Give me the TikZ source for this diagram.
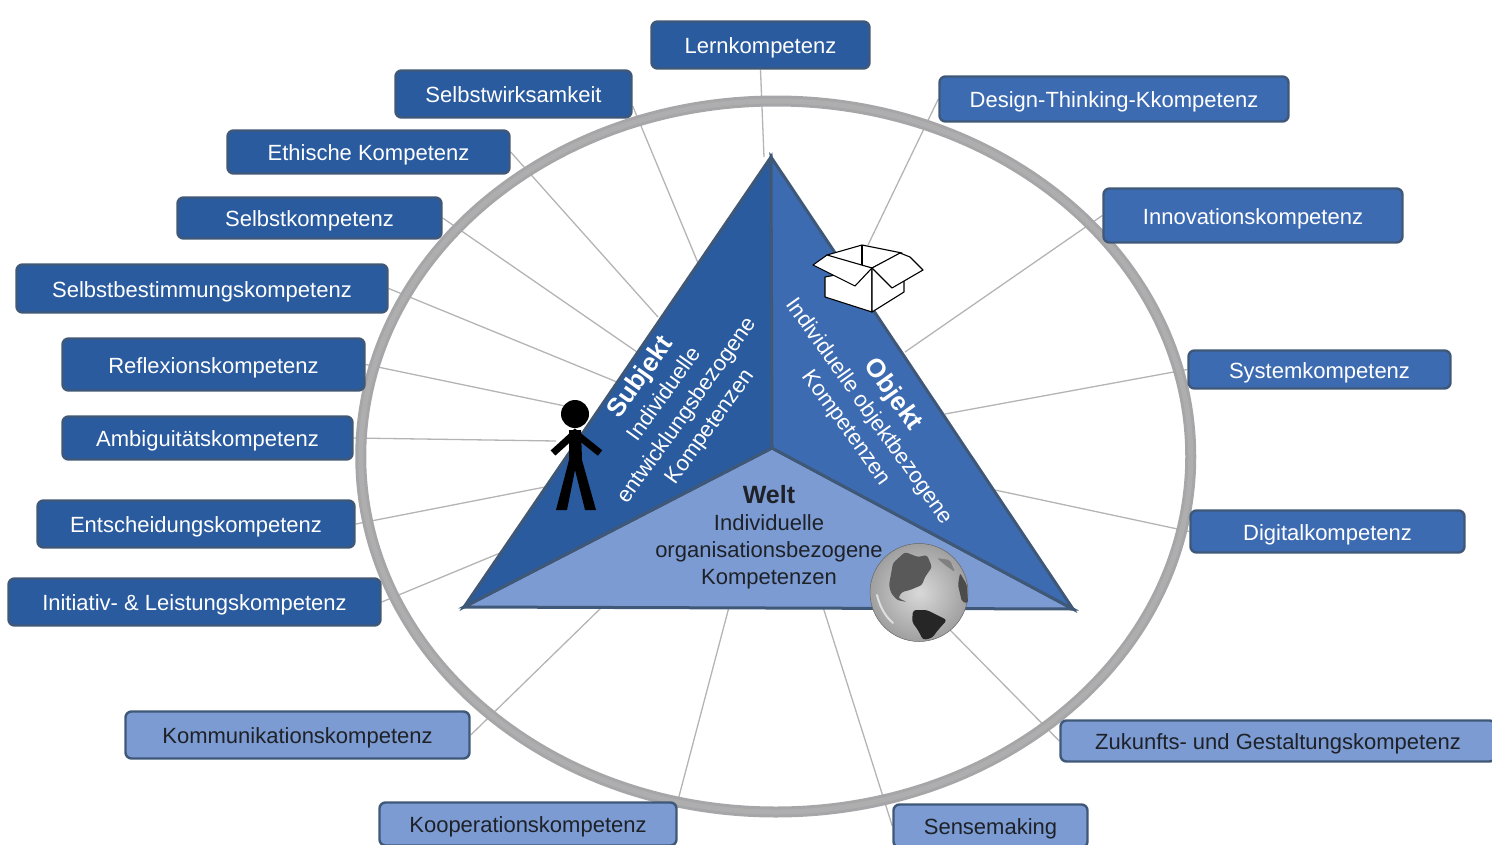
\documentclass[tikz,border=0pt]{standalone}
\usepackage{fontspec}
\setmainfont{Liberation Sans}
\usetikzlibrary{shadings}
\pgfdeclarelayer{back}
\pgfsetlayers{back,main}
\definecolor{subjblue}{HTML}{2A5B9E}
\definecolor{objblue}{HTML}{3D6BB2}
\definecolor{weltblue}{HTML}{7C9BD2}
\definecolor{edgeblue}{HTML}{3F5878}
\definecolor{ringgray}{HTML}{A6A6A8}
\definecolor{ringlight}{HTML}{AEAEAE}
\definecolor{spokegray}{HTML}{B4B4B4}
\definecolor{darktext}{HTML}{1E2228}
\tikzset{
  kbox/.style={rounded corners=6pt,draw=edgeblue,line width=2.4pt,inner sep=0pt,anchor=center,text height=20pt,text depth=2.6pt,font=\fontsize{22}{24}\selectfont},
  subjbox/.style={kbox,fill=subjblue,text=white},
  objbox/.style={kbox,fill=objblue,text=white},
  weltbox/.style={kbox,fill=weltblue,text=darktext},
  spoke/.style={draw=spokegray,line width=1.3pt},
  wedge/.style={draw=edgeblue,line width=3pt,line join=miter},
  cardboard/.style={draw=black,fill=white,line width=1.1pt,line join=round},
  stick/.style={draw=black,line width=7pt},
  triText/.style={align=center,text=white,inner sep=0pt,font=\fontsize{22}{28}\selectfont},
}
\newcommand{\kb}[6]{%
  \node[#1,minimum width=#5 pt-#3 pt-1pt,minimum height=#6 pt-#4 pt-1pt] (#2) at ({(#3+#5)/2},{(#4+#6)/2})}
\begin{document}
\begin{tikzpicture}[x=1pt,y=-1pt]
\useasboundingbox (0,0) rectangle (1492,844);
% free ends of the connectors on the triangle
\coordinate (eLern) at (764,157);
\coordinate (eWirk) at (698,263);
\coordinate (eEth) at (658,317);
\coordinate (eSelbst) at (637,352);
\coordinate (eBest) at (617,382);
\coordinate (eRefl) at (565,406);
\coordinate (eAmb) at (556,441);
\coordinate (eEnt) at (545,487);
\coordinate (eIni) at (500,553);
\coordinate (eKom) at (602,607);
\coordinate (eKoop) at (729,607);
\coordinate (eSense) at (823,607);
\coordinate (eZuk) at (950,630);
\coordinate (eDig) at (995,490);
\coordinate (eSys) at (945,414);
\coordinate (eInn) at (905,352);
\coordinate (eDes) at (868,245);
% corners of the triangle
\coordinate (apex) at (771,157);
\coordinate (left) at (464,607);
\coordinate (right) at (1073,609);
\coordinate (mid) at (772,448);

% boxes
\kb{subjbox}{lern}{651}{21}{870}{69} {Lernkompetenz};
\kb{objbox}{design}{939}{76}{1289}{122} {Design-Thinking-Kkompetenz};
\kb{objbox}{innov}{1103}{188}{1403}{243} {Innovationskompetenz};
\kb{objbox}{system}{1188}{350}{1451}{389} {Systemkompetenz};
\kb{objbox}{digital}{1190}{510}{1465}{553} {Digitalkompetenz};
\kb{weltbox}{zukunft}{1060}{720}{1496}{762} {Zukunfts- und Gestaltungskompetenz};
\kb{weltbox}{sense}{893}{804}{1088}{848} {Sensemaking};
\kb{weltbox}{koop}{379}{802}{677}{846} {Kooperationskompetenz};
\kb{weltbox}{kommu}{125}{711}{470}{759} {Kommunikationskompetenz};
\kb{subjbox}{init}{8}{578}{381}{626} {Initiativ- \& Leistungskompetenz};
\kb{subjbox}{ent}{37}{500}{355}{548} {Entscheidungskompetenz};
\kb{subjbox}{ambi}{62}{416}{353}{460} {Ambiguitätskompetenz};
\kb{subjbox}{refl}{62}{338}{365}{391} {Reflexionskompetenz};
\kb{subjbox}{best}{16}{264}{388}{313} {Selbstbestimmungskompetenz};
\kb{subjbox}{selbst}{177}{197}{442}{239} {Selbstkompetenz};
\kb{subjbox}{ethik}{227}{130}{510}{174} {Ethische Kompetenz};
\kb{subjbox}{wirk}{395}{70}{632}{118} {Selbstwirksamkeit};

\begin{pgfonlayer}{back}
% connectors
\draw[spoke] (lern.south) -- (eLern);
\draw[spoke] ([yshift=-12pt]wirk.east) -- (eWirk);
\draw[spoke] (ethik.east) -- (eEth);
\draw[spoke] (selbst.east) -- (eSelbst);
\draw[spoke] (best.east) -- (eBest);
\draw[spoke] (refl.east) -- (eRefl);
\draw[spoke] (ambi.east) -- (eAmb);
\draw[spoke] (ent.east) -- (eEnt);
\draw[spoke] (init.east) -- (eIni);
\draw[spoke] (kommu.east) -- (eKom);
\draw[spoke] (koop.north east) -- (eKoop);
\draw[spoke] (sense.west) -- (eSense);
\draw[spoke] (zukunft.west) -- (eZuk);
\draw[spoke] (digital.west) -- (eDig);
\draw[spoke] (system.west) -- (eSys);
\draw[spoke] (innov.west) -- (eInn);
\draw[spoke] (design.west) -- (eDes);

% ring
\draw[ringgray,line width=11pt] (775.75,456.5) ellipse [x radius=415,y radius=355.5];
\draw[ringlight,line width=5pt] (775.75,456.5) ellipse [x radius=415,y radius=355.5];

% triangle
\draw[wedge,fill=weltblue] (left) -- (mid) -- (right) -- cycle;
\draw[wedge,fill=subjblue] (apex) -- (mid) -- (left) -- cycle;
\draw[wedge,fill=objblue] (apex) -- (mid) -- (right) -- cycle;

% triangle labels
\node[triText,rotate=54.5] (subjT) at (675,402) {{\fontsize{26}{28}\selectfont\bfseries Subjekt}\\Individuelle\\entwicklungsbezogene\\Kompetenzen};
\node[triText,rotate=-54.5] (objT) at (870,411) {{\fontsize{26}{28}\selectfont\bfseries Objekt}\\Individuelle objektbezogene\\Kompetenzen};
\node[triText,text=darktext,font=\fontsize{22}{27}\selectfont] (weltT) at (769,537) {{\fontsize{25}{27}\selectfont\bfseries Welt}\\Individuelle\\organisationsbezogene\\Kompetenzen};

% person
\fill[black] (575,414) circle [radius=14];
\draw[stick,line join=miter] (553,453) -- (575,433) -- (600,453);
\fill[black] (569,430) -- (581,430) -- (582,460) -- (596,510) -- (585,510) -- (575,470) -- (567,510) -- (556,510) -- (569,460) -- cycle;

% cardboard box
\draw[cardboard] (827,255) -- (862,245) -- (902,253) -- (872,268) -- (843,262) -- cycle;
\draw[cardboard] (862,245) -- (862,265);
\draw[cardboard] (825,277) -- (825,297) -- (872,312) -- (872,268) -- cycle;
\draw[cardboard] (872,312) -- (904,292) -- (904,272) -- (872,268) -- cycle;
\draw[cardboard] (813,265) -- (827,255) -- (872,268) -- (855,286) -- cycle;
\draw[cardboard] (872,268) -- (900,253) -- (910,257) -- (923,270) -- (892,288) -- cycle;

% globe
\shade[inner color=gray!30!white,outer color=gray!75!white,draw=gray!80!black,line width=0.5pt] (919,592.5) circle [radius=49];
\draw[white!75!gray,line width=2pt,line cap=round] (877,595) .. controls (880,607) and (885,616) .. (893,623);
\fill[black!65,rounded corners=2.5pt] (889,585) -- (893,563) -- (905,552) -- (918,557) -- (927,555) -- (932,567) -- (925,577) -- (922,585) -- (910,590) -- (902,592) -- (898,598) -- (907,602) -- (897,600) -- (891,593) -- cycle;
\fill[black!50,rounded corners=2pt] (937,558) -- (950,560) -- (955,572) -- (945,565) -- cycle;
\fill[black!70,rounded corners=2pt] (960,573) -- (967,585) -- (968,603) -- (962,602) -- (958,585) -- cycle;
\fill[black!85,rounded corners=3pt] (913,610) -- (927,610) -- (947,620) -- (938,630) -- (932,638) -- (923,640) -- (918,630) -- (912,622) -- cycle;
\end{pgfonlayer}
\end{tikzpicture}
\end{document}
